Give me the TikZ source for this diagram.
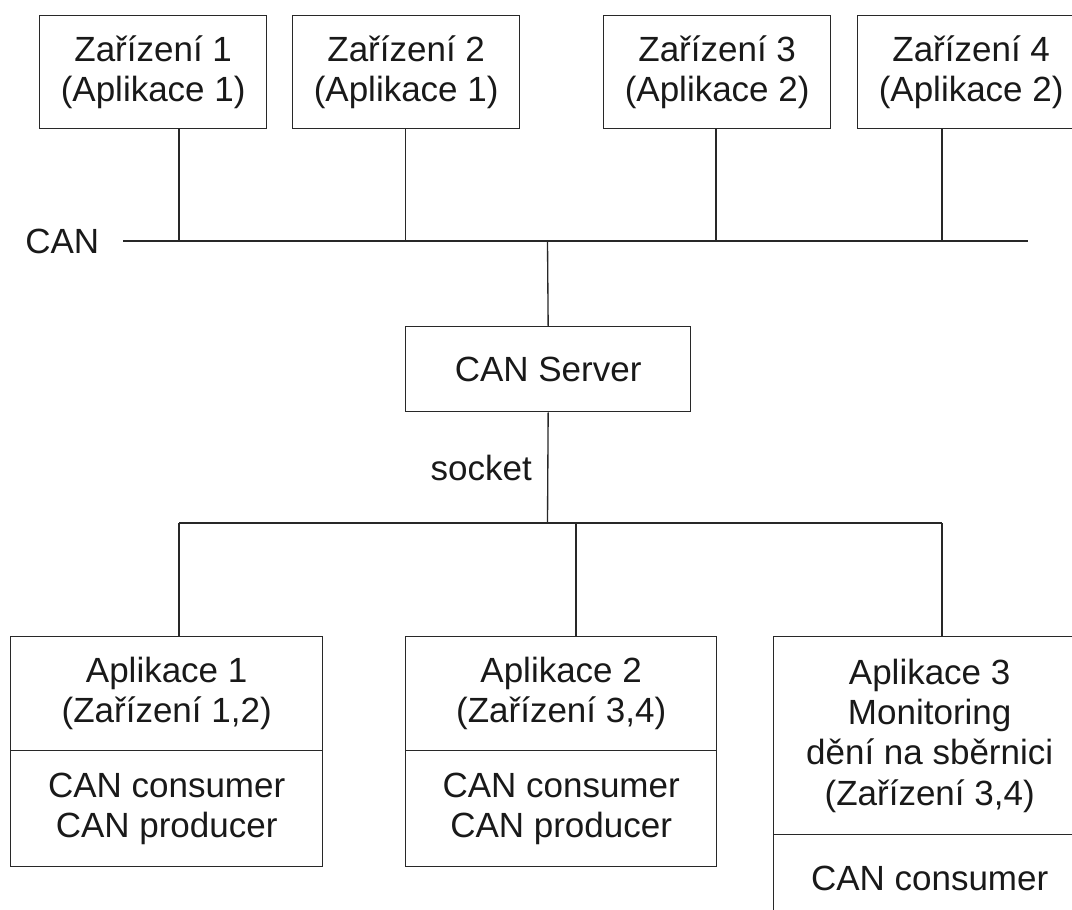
\documentclass[tikz,border=0pt]{standalone}
\usepackage{fontspec}
\setmainfont{Liberation Sans}
\newcommand\diagfont{\fontsize{26.25pt}{30.2pt}\selectfont}
\definecolor{ln}{RGB}{40,40,40}
\definecolor{tx}{RGB}{25,25,25}
\tikzset{
  wire/.style={draw=ln, line width=1pt},
  box/.style={draw=ln, line width=1pt, inner sep=0pt, align=center,
    font=\diagfont, text=tx, anchor=north west},
  devbox/.style={box, minimum width=170.25pt, minimum height=84.75pt},
  lbl/.style={font=\diagfont, text=tx, inner sep=0pt},
}
\begin{document}
\begin{tikzpicture}[x=0.75pt, y=-0.75pt]
\useasboundingbox (0,0) rectangle (1072,910);
\clip (0,0) rectangle (1072,910);

% devices on the CAN bus
\node[devbox] (dev1) at (39,15)  {Zařízení 1\\(Aplikace 1)};
\node[devbox] (dev2) at (292,15) {Zařízení 2\\(Aplikace 1)};
\node[devbox] (dev3) at (603,15) {Zařízení 3\\(Aplikace 2)};
\node[devbox] (dev4) at (857,15) {Zařízení 4\\(Aplikace 2)};

% the bus line and its taps
\coordinate (busL) at (123,241);
\coordinate (busR) at (1028,241);
\coordinate (tap1) at (179,241);
\coordinate (tap2) at (405.5,241);
\coordinate (tap3) at (716,241);
\coordinate (tap4) at (942,241);
\coordinate (tapS) at (547.5,241);
\draw[wire] (busL) -- (busR);
\node[lbl, anchor=base west] (canlbl) at (25,253) {CAN};

\draw[wire] (dev1.south -| tap1) -- (tap1);
\draw[wire] (dev2.south -| tap2) -- (tap2);
\draw[wire] (dev3.south -| tap3) -- (tap3);
\draw[wire] (dev4.south -| tap4) -- (tap4);

% server
\node[box, minimum width=213.75pt, minimum height=63.75pt] (srv) at (405,326) {CAN Server};
\draw[wire] (tapS) -- (srv.north);

% socket distribution
\coordinate (hub) at (547.5,523);
\coordinate (dL) at (179,523);
\coordinate (dM) at (576,523);
\coordinate (dR) at (942,523);
\draw[wire] (srv.south) -- (hub);
\draw[wire] (dL) -- (dR);
\node[lbl, anchor=base east] (sock) at (532,480) {socket};

% applications
\node[box, minimum width=234pt, minimum height=85.5pt] (app1top) at (10,636) {Aplikace 1\\(Zařízení 1,2)};
\node[box, minimum width=234pt, minimum height=87pt] (app1bot) at (10,750) {CAN consumer\\CAN producer};
\node[box, minimum width=233.25pt, minimum height=85.5pt] (app2top) at (405,636) {Aplikace 2\\(Zařízení 3,4)};
\node[box, minimum width=233.25pt, minimum height=87pt] (app2bot) at (405,750) {CAN consumer\\CAN producer};
\node[box, minimum width=234pt, minimum height=148.5pt] (app3top) at (773,636) {Aplikace 3\\Monitoring\\dění na sběrnici\\(Zařízení 3,4)};
\node[box, minimum width=234pt, minimum height=66pt] (app3bot) at (773,834) {CAN consumer};

\draw[wire] (dL) -- (app1top.north -| dL);
\draw[wire] (dM) -- (app2top.north -| dM);
\draw[wire] (dR) -- (app3top.north -| dR);
\end{tikzpicture}
\end{document}
